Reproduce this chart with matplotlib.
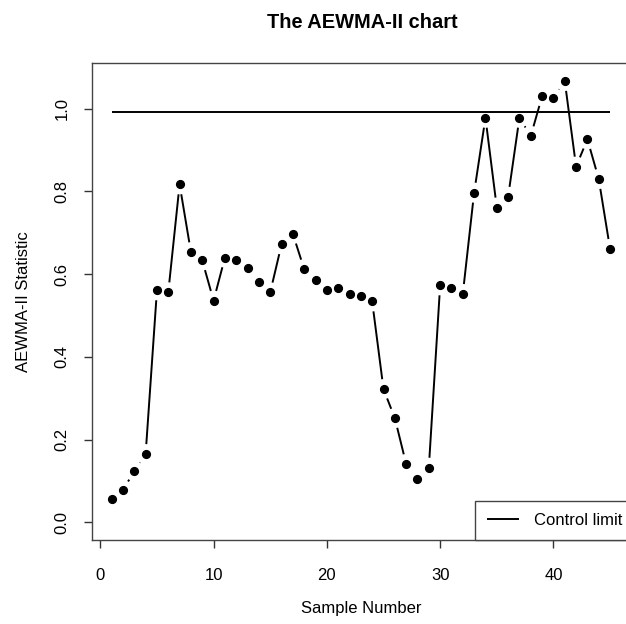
import numpy as np
import matplotlib
matplotlib.use('Agg')
import matplotlib.pyplot as plt

plt.rcParams['font.family'] = ['Liberation Sans', 'DejaVu Sans']

# AEWMA-II statistic for each sample
sample = list(range(1, 46))
stat = [0.057, 0.078, 0.124, 0.165, 0.561, 0.556, 0.817, 0.653, 0.633, 0.536,
        0.640, 0.635, 0.614, 0.582, 0.556, 0.672, 0.697, 0.612, 0.585, 0.561,
        0.566, 0.552, 0.548, 0.534, 0.322, 0.252, 0.141, 0.104, 0.132, 0.573,
        0.566, 0.552, 0.797, 0.978, 0.761, 0.787, 0.978, 0.934, 1.030, 1.026,
        1.067, 0.860, 0.926, 0.830, 0.661]
control_limit = 0.992
x_ticks = [0, 10, 20, 30, 40]
y_ticks = [0.0, 0.2, 0.4, 0.6, 0.8, 1.0]

W, H = 626, 624
fig = plt.figure(figsize=(W / 100, H / 100), dpi=100)
# plot region runs past the right edge of the image, as in the reference
ax_w = 630 - 91.7
ax = fig.add_axes([91.7 / W, (H - 540) / H, ax_w / W, (540 - 63.3) / H])

xr = max(sample) - min(sample)
ax.set_xlim(min(sample) - 0.04 * xr, max(sample) + 0.04 * xr)
ymax = max(stat)
ax.set_ylim(-0.04 * ymax, ymax * 1.04)

ink = 'black'
lw = 1.4

# R-style type="b": points, with line segments that stop short of each point
gap = 10.0  # pixels
pts = ax.transData.transform(np.column_stack([sample, stat]))
inv = ax.transData.inverted()
for p0, p1 in zip(pts[:-1], pts[1:]):
    d = np.hypot(*(p1 - p0))
    if d <= 2 * gap:
        continue
    u = (p1 - p0) / d
    seg = inv.transform(np.array([p0 + u * gap, p1 - u * gap]))
    ax.plot(seg[:, 0], seg[:, 1], color=ink, lw=lw, solid_capstyle='butt')
ax.plot(sample, stat, 'o', color=ink, markersize=5.6)

ax.hlines(control_limit, min(sample), max(sample), color=ink, lw=lw,
          label='Control limit', zorder=3)

ax.set_xticks(x_ticks)
ax.set_yticks(y_ticks)
ax.set_yticklabels([f'{v:.1f}' for v in y_ticks], rotation=90, va='center')
ax.tick_params(direction='out', length=5.8, width=1, color='#333333',
               labelsize=12)
ax.tick_params(axis='x', pad=14)
ax.tick_params(axis='y', pad=10)
for s in ax.spines.values():
    s.set_color('#444444')
    s.set_linewidth(1)

ax.set_xlabel('Sample Number', fontsize=12)
ax.set_ylabel('AEWMA-II Statistic', fontsize=12)
ax.xaxis.set_label_coords(0.5, -(609 - 540) / (540 - 63.3))
ax.xaxis.label.set_va('center')
ax.yaxis.set_label_coords(-(91.7 - 23) / ax_w, 0.5)
ax.yaxis.label.set_va('center')

fig.text(362 / W, (H - 22) / H, 'The AEWMA-II chart', fontsize=14.4,
         fontweight='bold', ha='center', va='center')

leg = ax.legend(loc='lower right', bbox_to_anchor=(1 + 4 / ax_w, 0),
                borderaxespad=0, fontsize=12,
                handlelength=1.9, handletextpad=0.9, borderpad=0.72,
                fancybox=False, framealpha=1)
leg.get_frame().set_edgecolor('#444444')
leg.get_frame().set_linewidth(1)

fig.savefig('out.png', dpi=100)
